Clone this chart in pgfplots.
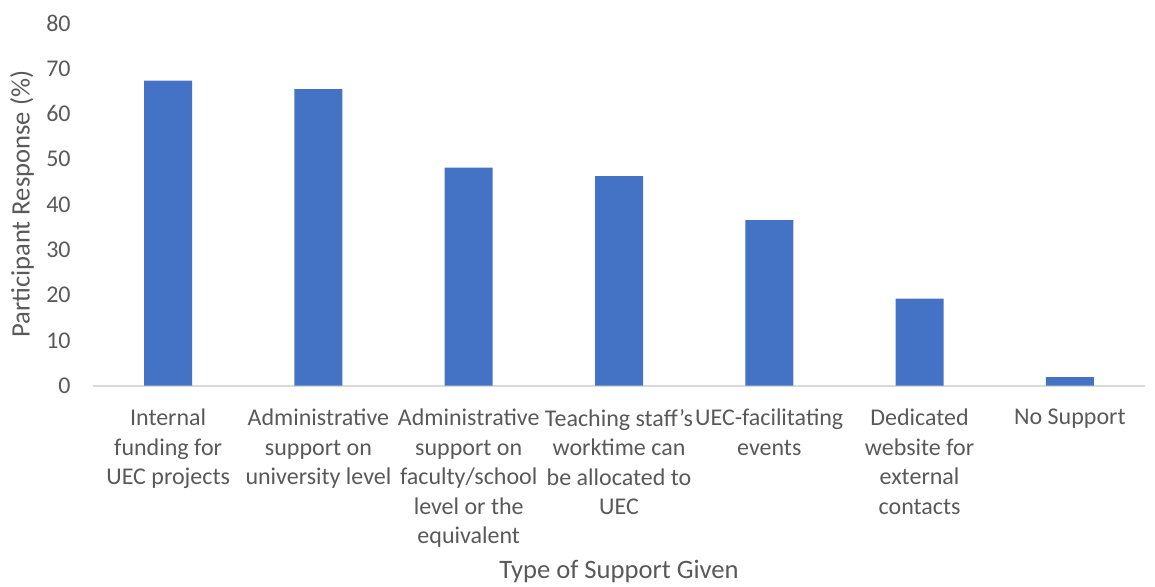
\documentclass[border=0pt]{standalone}
\usepackage{pgfplots}
\pgfplotsset{compat=1.18}
\usepackage{fontspec}
\setmainfont{Carlito}
\definecolor{barblue}{HTML}{4472C4}
\definecolor{txtgray}{HTML}{595959}
\definecolor{axgray}{HTML}{D9D9D9}
\begin{document}
\begin{tikzpicture}
\begin{axis}[
  name=ax,
  scale only axis,
  width=526pt, height=181.35pt,
  xmin=-0.5, xmax=6.5, ymin=0, ymax=80,
  ytick={0,10,...,80},
  xtick={0,...,6},
  xticklabels={
    {Internal\\funding for\\UEC projects},
    {Administrative\\support on\\university level},
    {Administrative\\support on\\faculty/school\\level or the\\equivalent},
    {Teaching staff’s\\worktime can\\be allocated to\\UEC},
    {UEC-facilitating\\events},
    {Dedicated\\website for\\external\\contacts},
    {No Support}},
  axis x line*=bottom,
  axis y line*=left,
  y axis line style={draw=none},
  x axis line style={axgray, line width=1pt, -},
  major tick length=0pt,
  every tick label/.append style={font=\fontsize{12}{14.75}\selectfont, text=txtgray},
  /pgf/number format/assume math mode=true,
  xticklabel style={align=center, anchor=north, inner sep=0pt, yshift=-11.5pt},
  yticklabel style={anchor=east, inner sep=0pt, xshift=-11pt},
  ylabel={Participant Response (\%)},
  xlabel={Type of Support Given},
  label style={font=\fontsize{13.3}{16}\selectfont, text=txtgray},
  ylabel style={at={(axis description cs:0,0.5)}, anchor=center, yshift=35.5pt},
  xlabel style={at={(axis description cs:0.5,0)}, anchor=center, yshift=-93pt},
  clip=false,
]
\addplot[ybar, bar width=24pt, fill=barblue, draw=none] coordinates {
  (0,67.3) (1,65.4) (2,48.1) (3,46.2) (4,36.5) (5,19.2) (6,1.9)};
\end{axis}
\pgfresetboundingbox
\path[use as bounding box] ([xshift=-46.5pt,yshift=-100.65pt]ax.south west) rectangle ([xshift=5pt,yshift=11.5pt]ax.north east);
\end{tikzpicture}
\end{document}
